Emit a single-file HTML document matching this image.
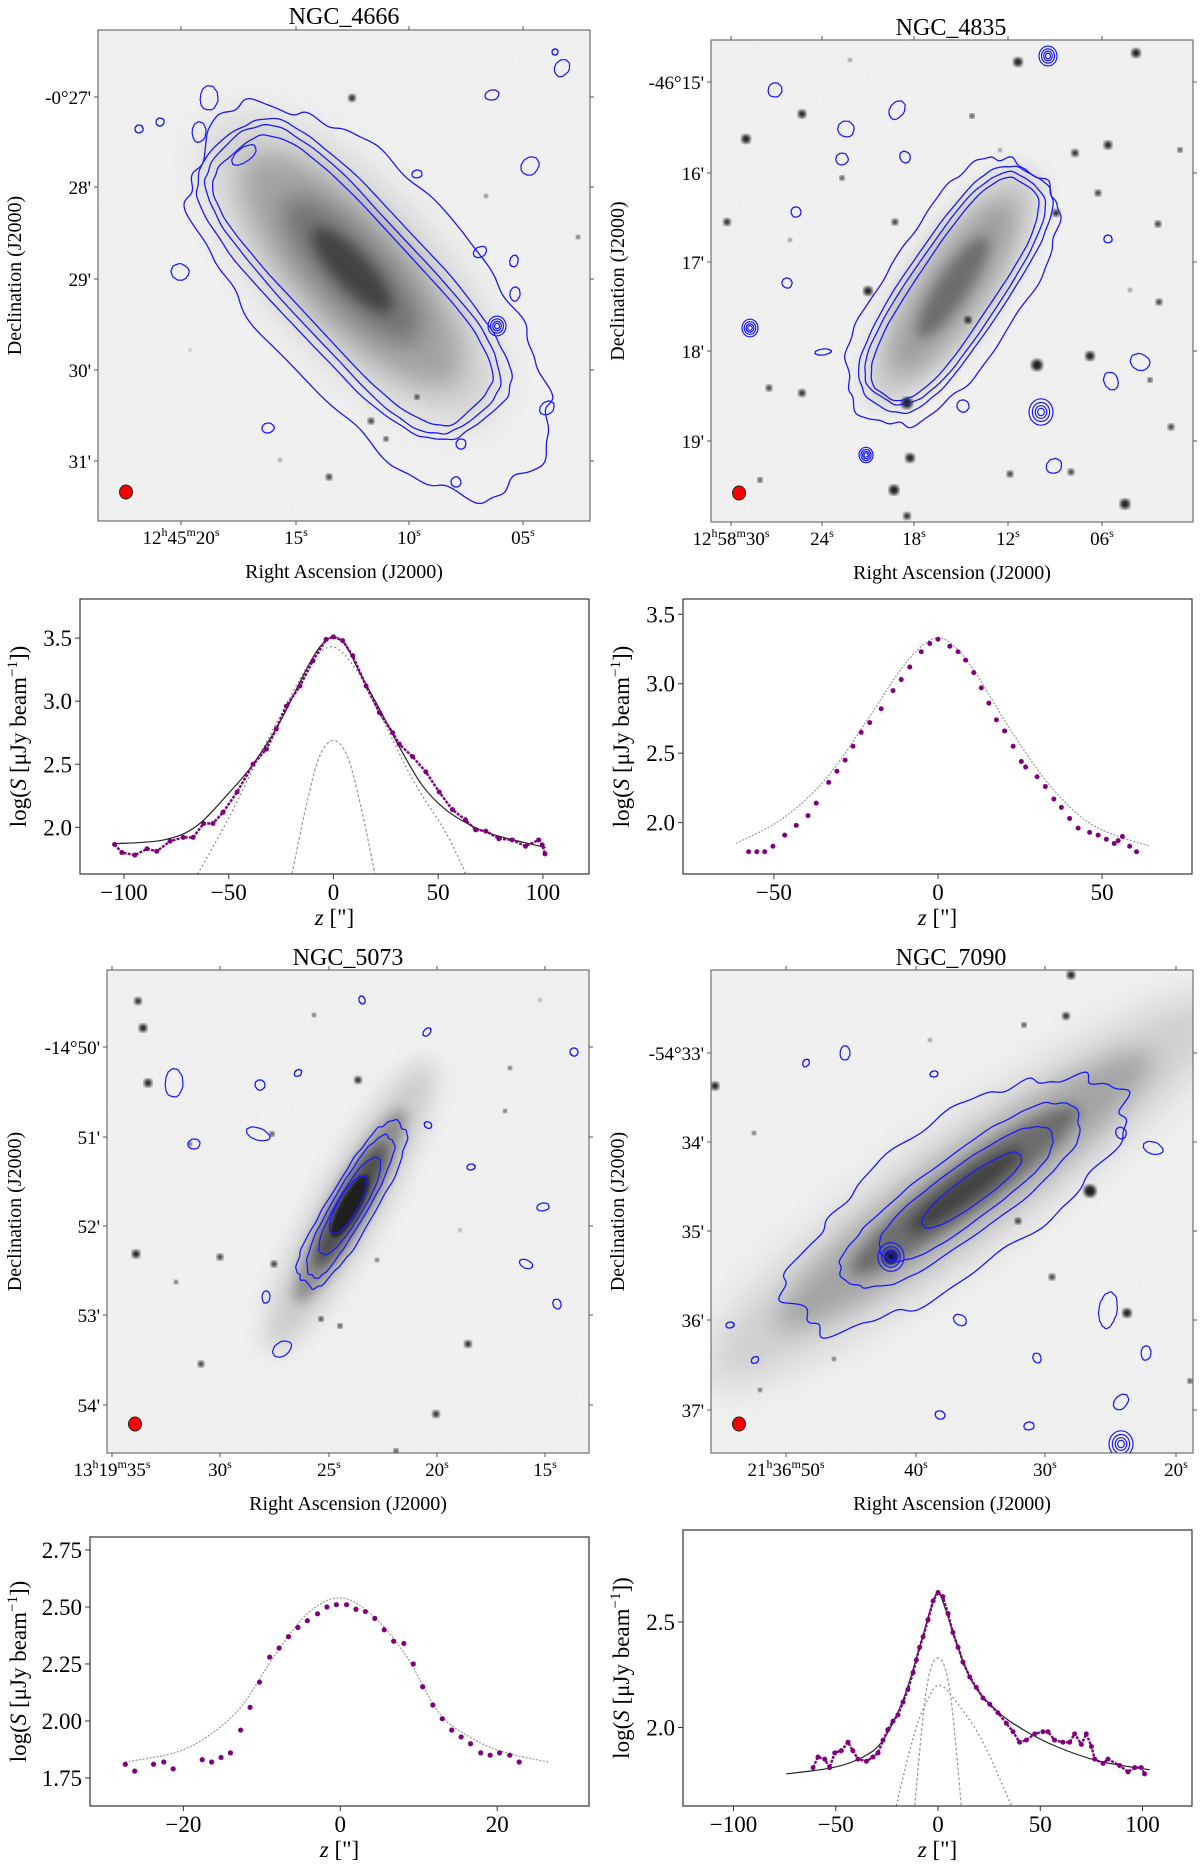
<!DOCTYPE html>
<html><head><meta charset="utf-8">
<style>
body{margin:0;background:#fff;}
svg, svg text{font-family:"Liberation Serif","DejaVu Serif","Times New Roman",serif;}
</style></head>
<body>
<svg id="fig" width="1200" height="1861" viewBox="0 0 1200 1861" xmlns="http://www.w3.org/2000/svg" font-family="Liberation Serif, DejaVu Serif, serif">
<defs>
<filter id="noise" x="0" y="0" width="100%" height="100%"><feTurbulence type="fractalNoise" baseFrequency="0.85" numOctaves="1" seed="4"/><feColorMatrix type="saturate" values="0"/></filter>
<filter id="b2"><feGaussianBlur stdDeviation="1.6"/></filter>
<filter id="b6" x="-50%" y="-50%" width="200%" height="200%"><feGaussianBlur stdDeviation="6"/></filter>
<filter id="b12" x="-50%" y="-50%" width="200%" height="200%"><feGaussianBlur stdDeviation="12"/></filter>
<filter id="b20" x="-50%" y="-50%" width="200%" height="200%"><feGaussianBlur stdDeviation="20"/></filter>
</defs>
</svg>
<script>
// ---------- profile data ----------
const p1Z=[-104.5,-101,-94.8,-89,-84.4,-78,-71.7,-67,-62,-57.5,-52.7,-46,-38.4,-32,-27.3,-22.5,-16,-9.8,-3.5,0,4.4,9.2,15.6,21.9,28.3,31.4,37.8,44.1,50.5,56.8,63,67.9,72.7,79,85.4,91.7,98,99.7,101];
const p1V=[1.865,1.80,1.78,1.83,1.81,1.89,1.92,1.92,2.03,2.03,2.12,2.28,2.50,2.62,2.78,2.96,3.12,3.32,3.49,3.51,3.48,3.36,3.12,2.91,2.75,2.66,2.56,2.44,2.28,2.14,2.06,1.98,1.97,1.91,1.90,1.85,1.90,1.86,1.79];
const p1FitZ=[-104,-81,-65.4,-49.5,-38.4,-25.7,-13,-6,0,6,12.4,21.9,31.4,42.5,53.6,66.3,79,101.3];
const p1FitV=[1.87,1.90,2.01,2.28,2.50,2.83,3.25,3.44,3.51,3.44,3.23,2.94,2.64,2.33,2.14,2.01,1.93,1.84];
const p1BroadZ=[-64.8,-49.5,-33.7,-17.8,-9.8,0,10.8,21.9,37.8,53.6,63.2];
const p1BroadV=[1.63,2.09,2.62,3.12,3.33,3.43,3.25,2.91,2.38,1.96,1.63];
const p1NarrowZ=[-19.8,-13,-6.7,0,6.7,13,19.8];
const p1NarrowV=[1.63,2.17,2.56,2.69,2.56,2.17,1.63];

const p2Z=[-57.7,-55.2,-52.8,-50.3,-46.7,-43.2,-39.6,-37.1,-33.3,-30.8,-28.3,-25.9,-23.4,-20.8,-17.3,-13.7,-11.2,-8.6,-5.1,-2.5,0,3.6,6.1,8.4,10.9,13.2,15.5,17.8,20.3,22.9,25.4,26.7,30.2,32.7,35.3,37.6,40.1,42.7,46.2,48.8,51.3,53.7,54.9,56.2,58.4,60.5];
const p2V=[1.79,1.79,1.79,1.83,1.91,1.98,2.05,2.14,2.29,2.37,2.45,2.55,2.65,2.72,2.82,2.95,3.03,3.12,3.23,3.29,3.32,3.27,3.23,3.17,3.08,2.97,2.86,2.74,2.66,2.55,2.44,2.40,2.33,2.26,2.17,2.11,2.03,1.96,1.93,1.91,1.88,1.85,1.87,1.90,1.83,1.79];
const p2FitZ=[-61.5,-47.3,-34,-21.8,-11.7,-5,0,5,11.7,21.8,34,47.3,64.5];
const p2FitV=[1.85,2.03,2.32,2.73,3.09,3.27,3.33,3.27,3.07,2.68,2.27,1.98,1.83];

const p3Z=[-27.4,-26.2,-23.8,-22.5,-21.3,-17.6,-16.4,-15.2,-14.0,-12.7,-11.5,-10.3,-9.0,-7.8,-6.6,-5.4,-4.2,-2.9,-1.7,-0.5,0.8,2.0,3.2,4.4,5.6,6.8,8.1,9.3,10.5,11.8,13.0,14.2,15.4,16.6,17.9,19.1,20.3,21.6,22.8];
const p3V=[1.81,1.78,1.81,1.82,1.79,1.83,1.82,1.84,1.86,1.96,2.06,2.17,2.28,2.32,2.37,2.41,2.44,2.47,2.50,2.51,2.51,2.49,2.48,2.45,2.40,2.35,2.34,2.25,2.15,2.07,2.01,1.96,1.93,1.90,1.86,1.85,1.86,1.85,1.82];
const p3FitZ=[-27.4,-21.2,-17,-12.7,-8.5,-4.2,0,4.2,8.5,12.7,17,21.2,26.5];
const p3FitV=[1.82,1.86,1.93,2.06,2.28,2.47,2.54,2.46,2.28,2.03,1.92,1.86,1.82];

const p4Z=[-61.1,-58.7,-55.4,-53,-50.5,-47.3,-44,-41.6,-39.1,-35,-31.8,-29.3,-26.9,-24.5,-22,-19.6,-17.1,-14.7,-12.2,-10.6,-9.0,-7.3,-4.9,-2.4,0,2.4,4.9,7.3,9.8,12.2,15.5,18.7,22,25.3,29.3,33.4,36.7,39.9,43.2,47.3,51.3,53.8,57,61.1,64.4,66.8,70.1,72.5,75,76.6,80.7,83.1,88.8,92.9,96.2,99.4,101];
const p4V=[1.81,1.86,1.85,1.81,1.88,1.89,1.93,1.89,1.85,1.84,1.86,1.88,1.94,1.99,2.03,2.06,2.12,2.18,2.26,2.32,2.38,2.43,2.51,2.60,2.64,2.62,2.54,2.45,2.38,2.31,2.24,2.19,2.14,2.11,2.07,2.02,1.98,1.93,1.94,1.97,1.98,1.98,1.94,1.93,1.93,1.97,1.92,1.97,1.91,1.85,1.83,1.85,1.82,1.79,1.81,1.81,1.78];
const p4FitZ=[-74.2,-51.3,-36.7,-26.9,-17.1,-9,-4,0,4,9,17.1,28.5,41.6,57.9,79,103.5];
const p4FitV=[1.78,1.81,1.86,1.94,2.13,2.38,2.55,2.64,2.55,2.40,2.21,2.08,1.99,1.91,1.84,1.80];
const p4NarrowZ=[-11.4,-5.7,0,5.7,11.4];
const p4NarrowV=[1.63,2.18,2.33,2.18,1.63];
const p4BroadZ=[-20.4,-12.2,-5.7,0.8,10.6,22,35.9];
const p4BroadV=[1.63,1.95,2.12,2.20,2.10,1.93,1.63];

const xt1=[-100,-50,0,50,100], yt1=[2.0,2.5,3.0,3.5];
const xt2=[-50,0,50], yt2=[2.0,2.5,3.0,3.5];
const xt3=[-20,0,20], yt3=[1.75,2.00,2.25,2.50,2.75];
const xt4=[-100,-50,0,50,100], yt4=[2.0,2.5];

const NS="http://www.w3.org/2000/svg";
const FF="Liberation Serif, DejaVu Serif, serif";
const svg=document.getElementById('fig');
function el(tag,attrs,parent){const e=document.createElementNS(NS,tag);for(const k in attrs)e.setAttribute(k,attrs[k]);if(tag==='text')e.setAttribute('font-family',FF);(parent||svg).appendChild(e);return e;}
function fmtNum(v,d){return (v<0?'\u2212':'')+Math.abs(v).toFixed(d);}

// ---------- image panels ----------
function noiseF(t,seed){let s=0;for(let k=2;k<28;k++){s+=Math.sin(k*t+seed*k*1.37+k*k*0.3)/(k<8?k*0.9:k*0.7);}return s*0.35;}
function contourPath(cx,cy,a,b,angDeg,n,amp,seed){
  const ang=angDeg*Math.PI/180,ca=Math.cos(ang),sa=Math.sin(ang);let d='';
  for(let i=0;i<=300;i++){const t=i/300*2*Math.PI;const c=Math.cos(t),s=Math.sin(t);
    let u=a*Math.sign(c)*Math.pow(Math.abs(c),2/n),v=b*Math.sign(s)*Math.pow(Math.abs(s),2/n);
    const f=1+amp*noiseF(t,seed);u*=f;v*=f;
    const x=cx+u*ca-v*sa,y=cy+u*sa+v*ca;d+=(i?'L':'M')+x.toFixed(1)+' '+y.toFixed(1);}
  return d+'Z';
}
function imagePanel(cfg){
  const g=el('g',{});
  
  
  const clipId='clip-'+cfg.name;
  const cp=el('clipPath',{id:clipId},g);el('rect',{x:cfg.x0,y:cfg.y0,width:cfg.x1-cfg.x0,height:cfg.y1-cfg.y0},cp);
  const img=el('g',{'clip-path':'url(#'+clipId+')'},g);
  
  
  el('rect',{x:cfg.x0,y:cfg.y0,width:cfg.x1-cfg.x0,height:cfg.y1-cfg.y0,fill:'#f3f3f3'},img);
  el('rect',{x:cfg.x0,y:cfg.y0,width:cfg.x1-cfg.x0,height:cfg.y1-cfg.y0,filter:'url(#noise)',opacity:0.12},img);
  cfg.galaxy.forEach(L=>{el('ellipse',{cx:0,cy:0,rx:L[0],ry:L[1],fill:'#000',opacity:L[2],filter:'url(#'+L[3]+')',transform:`translate(${cfg.gx},${cfg.gy}) rotate(${cfg.ang})`},img);});
  cfg.stars.forEach(s=>{const st=el('circle',{cx:s[0],cy:s[1],r:s[2],fill:'#111',opacity:s[3]||0.9,filter:'url(#b2)'},img);
    
    });
  cfg.contours.forEach((c,i)=>{const p=el('path',{d:contourPath(c[0],c[1],c[2],c[3],c[4],c[5],c[6],c[7]),fill:'none',stroke:'#1a1aff','stroke-width':1.3},img);
    
    });
  cfg.blobs.forEach((b,i)=>{const p=el('path',{d:contourPath(b[0],b[1],b[2],b[3],(i*37)%180,2,0.12,i+1),fill:'none',stroke:'#1a1aff','stroke-width':1.2},img);
    
    });
  cfg.rings.forEach(r=>{[1,0.72,0.48,0.28].forEach(f=>{el('ellipse',{cx:r[0],cy:r[1],rx:r[2]*f,ry:r[2]*f*1.1,fill:'none',stroke:'#1a1aff','stroke-width':1.2},img);});});
  const beam=el('ellipse',{cx:cfg.x0+28,cy:cfg.y1-29,rx:6.5,ry:7,fill:'#ff0000',stroke:'#222','stroke-width':1},g);
  
  
  el('rect',{x:cfg.x0,y:cfg.y0,width:cfg.x1-cfg.x0,height:cfg.y1-cfg.y0,fill:'none',stroke:'#555','stroke-width':1},g);
  cfg.dec.forEach(t=>{el('line',{x1:cfg.x0,x2:cfg.x0-4,y1:t[1],y2:t[1],stroke:'#555'},g);el('line',{x1:cfg.x1,x2:cfg.x1+4,y1:t[1],y2:t[1],stroke:'#555'},g);
    const tx=el('text',{x:cfg.x0-7,y:t[1]+7,'text-anchor':'end','font-size':19},g);tx.textContent=t[0];
    
    });
  cfg.ra.forEach(t=>{el('line',{x1:t[3],x2:t[3],y1:cfg.y1,y2:cfg.y1+4,stroke:'#555'},g);el('line',{x1:t[3],x2:t[3],y1:cfg.y0,y2:cfg.y0-4,stroke:'#555'},g);
    const tx=el('text',{x:t[3],y:cfg.y1+23,'text-anchor':'middle','font-size':19},g);
    
    
    const parts=t[0];for(let i=0;i<parts.length;i++){const sp=el('tspan',i%2?{'font-size':12,dy:-8}:(i>0?{dy:8}:{}),tx);sp.textContent=parts[i];}});
  const title=el('text',{x:cfg.tx,y:cfg.ty,'text-anchor':'middle','font-size':24},g);title.textContent=cfg.title;
  
  
  const xl=el('text',{x:(cfg.x0+cfg.x1)/2,y:cfg.y1+57,'text-anchor':'middle','font-size':20},g);xl.textContent='Right Ascension (J2000)';
  
  
  const yc=(cfg.y0+cfg.y1)/2;
  const yl=el('text',{x:cfg.ylx,y:yc,'text-anchor':'middle','font-size':20,transform:`rotate(-90 ${cfg.ylx} ${yc})`},g);yl.textContent='Declination (J2000)';
  
  
}

imagePanel({name:'ngc4666-image',title:'NGC_4666',tx:344,ty:24,x0:98,y0:30,x1:590,y1:521,ylx:21,
 gx:352,gy:270,ang:47,
 galaxy:[[195,78,0.14,'b20'],[150,55,0.2,'b12'],[95,32,0.3,'b12'],[55,18,0.4,'b6']],
 stars:[[352,98,3.5],[371,421,3],[386,439,2.5],[329,477,3],[417,397,2.5],[578,237,2],[486,196,1.8],[280,460,2,0.5],[190,350,1.5,0.4]],
 contours:[[353,280,176,58,47,3.5,0.03,1],[353,280,183,66,47,3.5,0.04,2],[353,280,190,74,47,3.5,0.045,3],[372,298,232,104,47,2.6,0.17,4]],
 blobs:[[209,98,9,12],[562,68,7,9],[492,95,5,7],[139,129,4,4],[160,122,4,4],[199,132,7,10],[530,166,8,10],[417,174,4,5],[180,272,8,9],[480,252,7,5],[515,294,5,7],[547,408,6,8],[268,428,5,6],[461,444,5,5],[456,482,5,5],[514,261,4,6],[244,155,7,14],[555,52,3,3]],
 rings:[[497,326,9]],
 dec:[['-0°27\'',97],['28\'',187],['29\'',279],['30\'',370],['31\'',461]],
 ra:[[['12','h','45','m','20','s'],0,0,181],[['15','s'],0,0,296],[['10','s'],0,0,409],[['05','s'],0,0,523]]});

imagePanel({name:'ngc4835-image',title:'NGC_4835',tx:951,ty:35,x0:711,y0:40,x1:1193,y1:522,ylx:624,
 gx:953,gy:287,ang:-56,
 galaxy:[[140,46,0.15,'b12'],[105,30,0.22,'b12'],[60,16,0.3,'b6']],
 stars:[[1018,62,4.5],[1136,53,4.5],[802,114,4],[746,139,4.5],[1075,153,3.5],[1108,145,4],[727,222,3.5],[895,222,3],[1056,213,3.5],[1158,224,3],[868,291,4.5],[1037,365,5.5],[1090,356,4.5],[907,403,5.5],[910,458,4.5],[894,490,5],[1125,504,5],[802,393,3.5],[968,320,3.5],[1159,302,3],[1098,193,3],[842,178,2.5],[972,116,2.5],[769,388,3],[1010,474,3],[1071,472,3],[1171,427,3],[907,516,3.5],[1180,150,2.5],[760,480,2.5],[1150,380,2.5],[1000,150,2,0.6],[850,60,2,0.6],[790,240,2,0.6],[1130,290,2,0.6]],
 contours:[[955,289,126,38,-56,3,0.03,5],[955,289,132,44,-56,3,0.035,6],[955,289,138,50,-56,3,0.04,7],[952,292,152,66,-56,2.5,0.14,8]],
 blobs:[[775,90,7,7],[897,110,7,10],[846,129,8,8],[842,159,6,6],[905,157,5,6],[796,212,5,5],[787,283,5,5],[1108,239,4,4],[1140,362,8,10],[1111,381,7,9],[963,406,6,6],[1054,466,7,8],[823,352,3,8]],
 rings:[[1041,412,12],[1048,56,9],[750,328,8],[866,455,7]],
 dec:[['-46°15\'',82],['16\'',173],['17\'',262],['18\'',351],['19\'',441]],
 ra:[[['12','h','58','m','30','s'],0,0,731],[['24','s'],0,0,822],[['18','s'],0,0,914],[['12','s'],0,0,1008],[['06','s'],0,0,1102]]});

imagePanel({name:'ngc5073-image',title:'NGC_5073',tx:348,ty:965,x0:107,y0:970,x1:589,y1:1453,ylx:21,
 gx:350,gy:1206,ang:-61,
 galaxy:[[165,32,0.15,'b12'],[110,20,0.3,'b6'],[70,14,0.45,'b6'],[35,10,0.6,'b2']],
 stars:[[138,1001,3.5],[143,1028,4],[148,1083,4],[358,1080,3.5],[136,1254,4],[220,1257,3],[274,1264,3],[468,1344,3.5],[201,1364,3],[436,1414,3.5],[321,1319,2.5],[340,1326,2.5],[272,1134,2.5],[314,1015,2],[377,1260,2],[510,1068,2],[505,1111,2],[396,1451,2.5],[190,1144,2],[176,1282,2],[460,1230,1.8,0.5],[540,1000,1.8,0.5]],
 contours:[[352,1205,92,24,-60,2.6,0.14,9],[350,1206,80,17,-60,2.6,0.09,10],[350,1206,55,13,-60,2.4,0.07,11],[348,1205,32,10,-60,2.2,0.06,12]],
 blobs:[[174,1083,9,14],[260,1085,5,5],[194,1144,5,6],[258,1134,6,12],[282,1349,10,7],[266,1297,4,6],[427,1032,3,5],[543,1207,4,6],[526,1264,4,7],[557,1304,4,5],[574,1052,4,4],[298,1073,3,4],[471,1167,3,4],[428,1125,3,4],[362,1000,3,4]],
 rings:[],
 dec:[['-14°50\'',1047],['51\'',1137],['52\'',1226],['53\'',1315],['54\'',1405]],
 ra:[[['13','h','19','m','35','s'],0,0,112],[['30','s'],0,0,220],[['25','s'],0,0,329],[['20','s'],0,0,437],[['15','s'],0,0,545]]});

imagePanel({name:'ngc7090-image',title:'NGC_7090',tx:951,ty:965,x0:711,y0:970,x1:1193,y1:1453,ylx:624,
 gx:965,gy:1190,ang:-36,
 galaxy:[[320,58,0.14,'b20'],[230,38,0.2,'b12'],[140,24,0.32,'b6'],[70,12,0.4,'b6']],
 stars:[[1071,975,4],[1066,1016,3.5],[715,1086,4],[1090,1191,6],[1127,1313,4.5],[891,1257,7],[1018,1221,3],[1052,1277,3],[1024,1025,2.5],[1190,1381,2.5],[754,1133,2],[834,1359,2],[760,1390,2],[930,1040,2,0.6]],
 contours:[[955,1200,200,70,-36,2.2,0.24,13],[962,1196,140,40,-36,2.5,0.09,14],[966,1194,105,27,-36,2.5,0.06,15],[972,1190,60,14,-36,2.2,0.06,16]],
 blobs:[[845,1053,5,7],[806,1063,3,4],[934,1074,3,4],[1153,1148,6,10],[1121,1133,5,6],[1146,1353,5,7],[1121,1402,6,9],[1029,1426,4,5],[940,1415,4,5],[1037,1358,4,5],[1108,1310,9,18],[755,1360,3,4],[730,1325,3,4],[960,1320,5,7]],
 rings:[[891,1257,13],[1121,1444,12]],
 dec:[['-54°33\'',1053],['34\'',1142],['35\'',1231],['36\'',1320],['37\'',1410]],
 ra:[[['21','h','36','m','50','s'],0,0,786],[['40','s'],0,0,916],[['30','s'],0,0,1045],[['20','s'],0,0,1176]]});

// ---------- profile plots ----------
function profilePlot(cfg){
  const g=el('g',{});
  
  
  const sx=z=>cfg.x0+(z-cfg.xd[0])/(cfg.xd[1]-cfg.xd[0])*(cfg.x1-cfg.x0);
  const sy=v=>cfg.y1-(v-cfg.yd[0])/(cfg.yd[1]-cfg.yd[0])*(cfg.y1-cfg.y0);
  const clipId='pc-'+cfg.name;
  const cp=el('clipPath',{id:clipId},g);el('rect',{x:cfg.x0,y:cfg.y0,width:cfg.x1-cfg.x0,height:cfg.y1-cfg.y0},cp);
  const inner=el('g',{'clip-path':'url(#'+clipId+')'},g);
  function smooth(zs,vs){const pts=zs.map((z,i)=>[sx(z),sy(vs[i])]);let d='M'+pts[0][0].toFixed(1)+' '+pts[0][1].toFixed(1);
    for(let i=0;i<pts.length-1;i++){const p0=pts[i-1]||pts[i],p1=pts[i],p2=pts[i+1],p3=pts[i+2]||p2;
      const c1=[p1[0]+(p2[0]-p0[0])/6,p1[1]+(p2[1]-p0[1])/6],c2=[p2[0]-(p3[0]-p1[0])/6,p2[1]-(p3[1]-p1[1])/6];
      d+=`C${c1[0].toFixed(1)} ${c1[1].toFixed(1)} ${c2[0].toFixed(1)} ${c2[1].toFixed(1)} ${p2[0].toFixed(1)} ${p2[1].toFixed(1)}`;}return d;}
  cfg.curves.forEach(c=>{const p=el('path',{d:smooth(c.z,c.v),fill:'none',stroke:c.color,'stroke-width':c.w,'stroke-dasharray':c.dash||'none'},inner);
    
    });
  if(cfg.joinPts){const pl=el('polyline',{points:cfg.pz.map((z,i)=>sx(z).toFixed(1)+','+sy(cfg.pv[i]).toFixed(1)).join(' '),fill:'none',stroke:'#800080','stroke-width':2.4,'stroke-linejoin':'round','stroke-dasharray':'3 1.2'},inner);
    
    }
  cfg.pz.forEach((z,i)=>{const c=el('circle',{cx:sx(z),cy:sy(cfg.pv[i]),r:cfg.r,fill:'#800080'},inner);
    
    });
  el('rect',{x:cfg.x0,y:cfg.y0,width:cfg.x1-cfg.x0,height:cfg.y1-cfg.y0,fill:'none',stroke:'#333','stroke-width':1.2},g);
  cfg.xt.forEach(t=>{const x=sx(t);el('line',{x1:x,x2:x,y1:cfg.y1,y2:cfg.y1+5,stroke:'#333'},g);
    const tx=el('text',{x:x,y:cfg.y1+26,'text-anchor':'middle','font-size':23},g);tx.textContent=fmtNum(t,0);
    
    });
  cfg.yt.forEach(t=>{const y=sy(t);el('line',{x1:cfg.x0,x2:cfg.x0-5,y1:y,y2:y,stroke:'#333'},g);
    const tx=el('text',{x:cfg.x0-8,y:y+8,'text-anchor':'end','font-size':23},g);tx.textContent=fmtNum(t,cfg.yd_dec);
    
    });
  const xl=el('text',{x:(cfg.x0+cfg.x1)/2,y:cfg.y1+51,'text-anchor':'middle','font-size':23},g);
  
  
  el('tspan',{'font-style':'italic'},xl).textContent='z';
  el('tspan',{},xl).textContent=' ["]';
  const yc=(cfg.y0+cfg.y1)/2;
  const yl=el('text',{x:cfg.ylx,y:yc,'text-anchor':'middle','font-size':23,transform:`rotate(-90 ${cfg.ylx} ${yc})`},g);
  
  
  el('tspan',{},yl).textContent='log(';
  el('tspan',{'font-style':'italic'},yl).textContent='S';
  el('tspan',{},yl).textContent=' [\u03bcJy beam';
  el('tspan',{'font-size':15,dy:-9},yl).textContent='\u22121';
  el('tspan',{dy:9},yl).textContent='])';
}

profilePlot({name:'ngc4666-profile',x0:80,y0:599,x1:589,y1:874,xd:[-121,122],yd:[1.63,3.81],yd_dec:1,xt:xt1,yt:yt1,ylx:26,r:2.5,joinPts:true,pz:p1Z,pv:p1V,
 curves:[{z:p1BroadZ,v:p1BroadV,color:'#777',w:1.3,dash:'1.5 3',label:'thick-disk-component'},{z:p1NarrowZ,v:p1NarrowV,color:'#999',w:1.2,dash:'3 2',label:'thin-disk-component'},{z:p1FitZ,v:p1FitV,color:'#222',w:1.2,label:'total-fit-line'}]});
profilePlot({name:'ngc4835-profile',x0:683,y0:599,x1:1192,y1:874,xd:[-77.7,77.4],yd:[1.63,3.61],yd_dec:1,xt:xt2,yt:yt2,ylx:629,r:2.5,joinPts:false,pz:p2Z,pv:p2V,
 curves:[{z:p2FitZ,v:p2FitV,color:'#999',w:1.2,dash:'2 1.5',label:'fit-line'}]});
profilePlot({name:'ngc5073-profile',x0:90,y0:1537,x1:589,y1:1806,xd:[-31.9,31.7],yd:[1.627,2.807],yd_dec:2,xt:xt3,yt:yt3,ylx:26,r:2.6,joinPts:false,pz:p3Z,pv:p3V,
 curves:[{z:p3FitZ,v:p3FitV,color:'#999',w:1.2,dash:'2 1.5',label:'fit-line'}]});
profilePlot({name:'ngc7090-profile',x0:683,y0:1530,x1:1192,y1:1806,xd:[-124.7,124.2],yd:[1.628,2.936],yd_dec:1,xt:xt4,yt:yt4,ylx:629,r:2.5,joinPts:true,pz:p4Z,pv:p4V,
 curves:[{z:p4BroadZ,v:p4BroadV,color:'#777',w:1.3,dash:'1.5 3',label:'thick-disk-component'},{z:p4NarrowZ,v:p4NarrowV,color:'#999',w:1.2,dash:'3 2',label:'thin-disk-component'},{z:p4FitZ,v:p4FitV,color:'#222',w:1.2,label:'total-fit-line'}]});
</script>
</body></html>
